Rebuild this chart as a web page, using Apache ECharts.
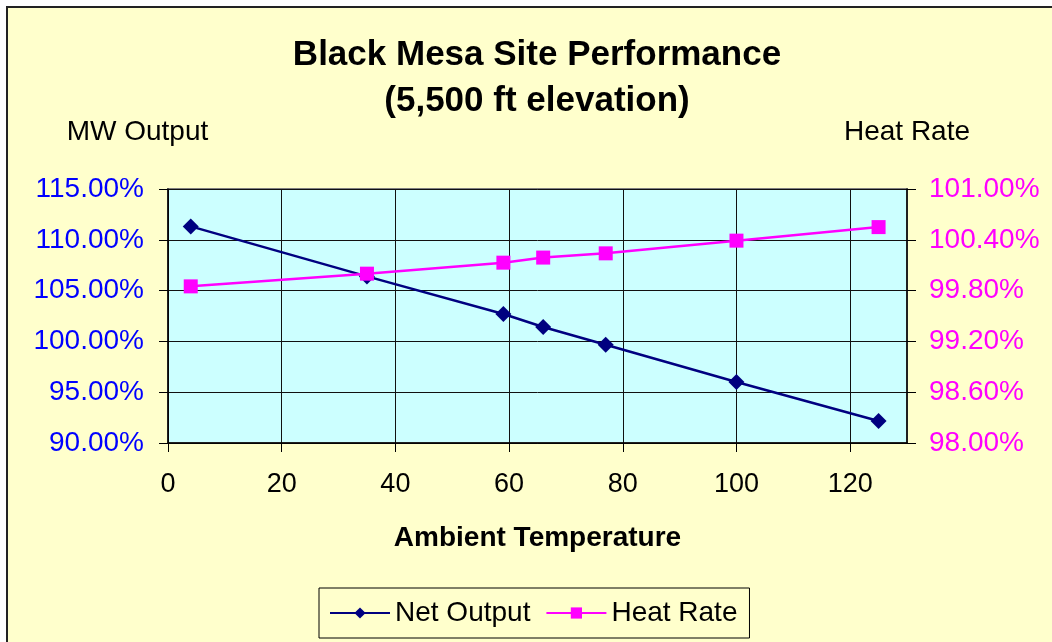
<!DOCTYPE html>
<html>
<head>
<meta charset="utf-8">
<script src="https://cdn.jsdelivr.net/npm/echarts@6/dist/echarts.min.js"></script>
<style>
html,body{margin:0;padding:0;background:#fff;}
#chart{width:1052px;height:642px;}
</style>
</head>
<body>
<div id="chart"></div>
<script>
// Data
const ambientTemp = [4, 35, 59, 66, 77, 100, 125];
const netOutput = [111.32, 106.40, 102.70, 101.42, 99.67, 96.00, 92.17];
const heatRate = [99.85, 100.00, 100.13, 100.19, 100.24, 100.39, 100.55];
const xTicks = [0, 20, 40, 60, 80, 100, 120];
const rightTicks = [98.0, 98.6, 99.2, 99.8, 100.4, 101.0];

const FONT = 'Liberation Sans, Arial, sans-serif';
const chart = echarts.init(document.getElementById('chart'), null, {renderer: 'canvas'});

const option = {
  backgroundColor: '#FFFFCC',
  animation: false,
  textStyle: {fontFamily: FONT},
  graphic: [
    {type: 'rect', shape: {x: 0, y: 0, width: 1052, height: 6}, style: {fill: '#ffffff'}, silent: true},
    {type: 'rect', shape: {x: 0, y: 0, width: 6, height: 642}, style: {fill: '#ffffff'}, silent: true},
    {type: 'line', shape: {x1: 6, y1: 7, x2: 1052, y2: 7}, style: {stroke: '#222', lineWidth: 2}, silent: true},
    {type: 'line', shape: {x1: 7, y1: 6, x2: 7, y2: 642}, style: {stroke: '#222', lineWidth: 2}, silent: true}
  ],
  title: {
    text: 'Black Mesa Site Performance\n(5,500 ft elevation)',
    left: 537,
    top: 32,
    textAlign: 'center',
    padding: 0,
    textStyle: {fontFamily: FONT, fontSize: 35, fontWeight: 'bold', color: '#000', lineHeight: 46}
  },
  legend: {
    left: 319,
    top: 588,
    padding: [11, 12, 11, 10],
    borderColor: '#000',
    borderWidth: 1,
    backgroundColor: '#FFFFCC',
    itemWidth: 60,
    itemHeight: 14,
    itemGap: 15,
    textStyle: {fontFamily: FONT, fontSize: 28, color: '#000'},
    data: ['Net Output', 'Heat Rate']
  },
  grid: {
    left: 168, right: 145, top: 189, bottom: 199,
    show: true,
    backgroundColor: '#CCFFFF',
    borderColor: '#808080',
    borderWidth: 2
  },
  xAxis: {
    type: 'value',
    min: 0, max: 130,
    name: 'Ambient Temperature',
    nameLocation: 'middle',
    nameGap: 81,
    nameTextStyle: {fontFamily: FONT, fontSize: 28, fontWeight: 'bold', color: '#000'},
    axisLine: {show: true, onZero: false, lineStyle: {color: '#000', width: 1.5}},
    axisTick: {show: true, length: 9, customValues: xTicks, lineStyle: {color: '#000'}},
    axisLabel: {customValues: xTicks, margin: 28, fontFamily: FONT, fontSize: 27, color: '#000'},
    splitLine: {show: true, lineStyle: {color: '#111', width: 1}}
  },
  yAxis: [
    {
      type: 'value',
      min: 90, max: 115, interval: 5,
      position: 'left',
      name: 'MW Output',
      nameLocation: 'end',
      nameGap: 43,
      nameTextStyle: {fontFamily: FONT, fontSize: 28, color: '#000', align: 'center', padding: [0, 61, 0, 0]},
      axisLine: {show: true, lineStyle: {color: '#000', width: 1.5}},
      axisTick: {show: true, length: 9, lineStyle: {color: '#000'}},
      axisLabel: {margin: 24, fontFamily: FONT, fontSize: 28, color: '#0000FF', formatter: v => v.toFixed(2) + '%'},
      splitLine: {show: true, lineStyle: {color: '#111', width: 1}}
    },
    {
      type: 'value',
      min: 98, max: 101,
      position: 'right',
      name: 'Heat Rate',
      nameLocation: 'end',
      nameGap: 43,
      nameTextStyle: {fontFamily: FONT, fontSize: 28, color: '#000', align: 'center'},
      axisLine: {show: true, lineStyle: {color: '#000', width: 1.5}},
      axisTick: {show: true, length: 9, customValues: rightTicks, lineStyle: {color: '#000'}},
      axisLabel: {customValues: rightTicks, margin: 22, fontFamily: FONT, fontSize: 28, color: '#FF00FF', formatter: v => v.toFixed(2) + '%'},
      splitLine: {show: false}
    }
  ],
  series: [
    {
      name: 'Net Output',
      type: 'line',
      yAxisIndex: 0,
      data: ambientTemp.map((t, i) => [t, netOutput[i]]),
      symbol: 'diamond',
      symbolSize: 16,
      itemStyle: {color: '#000080'},
      lineStyle: {color: '#000080', width: 2.5},
      z: 3
    },
    {
      name: 'Heat Rate',
      type: 'line',
      yAxisIndex: 1,
      data: ambientTemp.map((t, i) => [t, heatRate[i]]),
      symbol: 'rect',
      symbolSize: 14,
      itemStyle: {color: '#FF00FF'},
      lineStyle: {color: '#FF00FF', width: 2.5},
      z: 4
    }
  ]
};
chart.setOption(option);
</script>
</body>
</html>
